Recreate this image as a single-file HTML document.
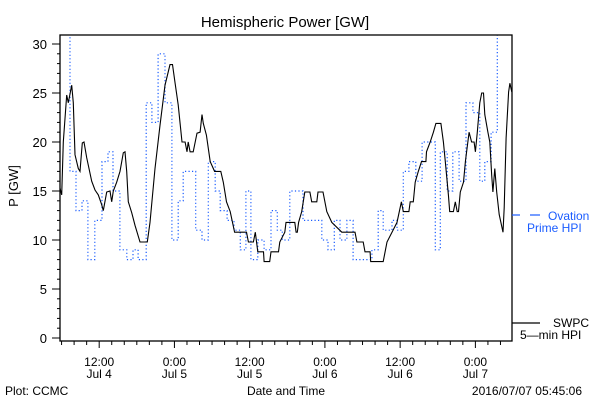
<!DOCTYPE html>
<html><head><meta charset="utf-8"><style>
body{margin:0;background:#fff;}
svg text{font-family:"Liberation Sans",sans-serif;}
</style></head><body>
<svg id="chart" width="600" height="400" xmlns="http://www.w3.org/2000/svg">
<rect width="600" height="400" fill="#fff"/>
<text x="285" y="27" font-size="15" text-anchor="middle">Hemispheric Power [GW]</text>
<text x="0" y="0" font-size="13" text-anchor="middle" transform="translate(18,186) rotate(-90)">P [GW]</text>
<text x="286" y="395" font-size="12" text-anchor="middle">Date and Time</text>
<text x="5" y="395" font-size="12">Plot: CCMC</text>
<text x="582" y="395" font-size="12" text-anchor="end">2016/07/07 05:45:06</text>
<defs><clipPath id="clip"><rect x="60" y="35" width="452" height="306"/></clipPath></defs>
<g id="ticks"></g>
<g id="series" clip-path="url(#clip)"></g>
<rect x="60" y="35" width="452" height="306" fill="none" stroke="#000" stroke-width="1.3"/>
<g>
<line x1="512" y1="215" x2="520" y2="215" stroke="#1a5cff" stroke-width="1.2"/>
<line x1="530" y1="215" x2="540" y2="215" stroke="#1a5cff" stroke-width="1.2"/>
<text x="548" y="220" font-size="12" fill="#1a5cff">Ovation</text>
<text x="527" y="232" font-size="12" fill="#1a5cff">Prime HPI</text>
</g>
<g>
<line x1="512" y1="323" x2="540" y2="323" stroke="#000" stroke-width="1.2"/>
<text x="553" y="327" font-size="12">SWPC</text>
<text x="520" y="339" font-size="12">5—min HPI</text>
</g>
</svg>
<script>
const swpcHours=[5.75,6.02,6.28,6.82,7.07,7.62,7.87,8.14,8.67,8.94,9.31,9.58,10.01,10.81,11.33,11.86,12.4,12.66,13.2,13.73,14.0,14.25,14.79,15.32,15.85,16.12,16.39,16.64,17.19,17.71,18.51,19.67,20.1,20.9,21.7,22.5,23.3,23.7,24.1,24.6,24.9,25.2,25.7,26.0,26.2,26.5,27.0,27.6,28.1,28.4,28.6,29.1,29.7,30.4,31.4,31.8,32.3,32.9,33.6,35.5,35.8,36.6,36.9,37.3,38.2,38.3,39.2,39.4,40.6,40.8,41.6,41.8,43.2,43.4,43.6,43.8,44.3,44.8,45.6,45.9,46.7,46.9,47.7,48.3,49.1,50.7,52.8,53.1,54.1,54.4,55.2,55.3,57.3,57.9,58.7,59.5,60.2,60.5,61.4,61.6,62.1,62.4,62.9,63.4,64.1,64.2,64.8,65.3,65.7,66.5,66.9,67.2,67.7,67.9,68.5,68.8,69.1,69.3,69.6,70.1,70.4,70.6,71.0,71.4,71.8,72.0,72.3,72.7,73.0,73.3,73.5,74.0,74.3,74.6,74.8,75.1,75.4,75.8,76.4,76.6,76.9,77.3,77.5,77.8];
const swpcValues=[15.3,14.6,20,24.8,24,25.8,24,18.7,17.3,17,19.9,20,18.4,16,15.1,14.6,13.6,13,14.9,15,13.9,15,15.9,17,18.9,19,17,13.9,12.8,11.5,9.8,9.8,11.8,17.3,21.7,25.8,27.9,27.9,26,23.8,21.9,20,20,19,20,19,19,20.9,21,22.8,21.9,20.7,18,17,17,15.9,13.9,12.9,10.8,10.8,9.8,9.8,10.8,8.8,8.8,7.8,7.8,8.8,8.8,9.8,10.8,11.8,11.8,10.8,10.8,11.8,12.9,14.9,14.9,13.9,13.9,14.9,14.9,12.9,11.8,10.8,10.8,9.8,9.8,8.8,8.8,7.8,7.8,9.8,10.8,11.8,13.9,12.9,12.9,13.9,13.9,15.9,17,18,18,19,20,21,21.9,21.9,20,18,14.6,12.9,12.9,13.9,12.9,12.9,14.9,15.9,18,19,21,20,20,19,21,24,25,25,22.8,21,20,16.6,14.9,17.3,14.9,12.6,10.8,13.3,20.4,25.1,26,25.1];
const ovationStarts=[6.7,7.35,8.3,9.26,10.2,11.3,12.45,13.4,14.2,15.3,16.4,17.4,18.2,19.5,20.4,21.4,22.5,23.6,24.6,25.4,27.4,28.4,29.4,30.5,31.3,32.4,33.5,34.5,35.4,36.2,37.3,38.3,39.4,40.4,41.2,42.4,44.5,47.5,48.5,49.5,50.4,51.5,52.5,55.5,56.5,57.3,58.7,59.5,60.5,61.4,62.5,63.5,65.6,66.4,67.5,68.4,69.4,70.5,71.6,72.7,73.5,74.5,75.5];
const ovationValues=[31,17,13,14,8,12,18,19,15,9,8,9,8,24,22,29,24,10,14,17,11,10,18,15,13,12,11,9,15,8,10,9,13,11,10,15,12,10,9,12,10,12,8,9,13,11,12,11,17,18,16,20,9,19,15,19,16,24,23,16,18,21,31];
const ovationEnd=76;
const yTickLabels=["0","5","10","15","20","25","30"];
const xTickHours=[12,24,36,48,60,72];
const xTickTimes=["12:00","0:00","12:00","0:00","12:00","0:00"];
const xTickDates=["Jul 4","Jul 5","Jul 5","Jul 6","Jul 6","Jul 7"];

const NS="http://www.w3.org/2000/svg";
function X(h){return 60+(h-5.75)*6.27;}
function Y(v){return 338-9.8*v;}
function mk(tag,attrs,parent){const e=document.createElementNS(NS,tag);for(const k in attrs)e.setAttribute(k,attrs[k]);parent.appendChild(e);return e;}
const ticks=document.getElementById('ticks');
const series=document.getElementById('series');
for(let v=0;v<=30;v++){
  const major=v%5===0;
  const t=mk('line',{x1:major?52:57,x2:60,y1:Y(v),y2:Y(v),stroke:'#000','stroke-width':1},ticks);
  
  
}
yTickLabels.forEach(function(l){
  const t=mk('text',{x:47,y:Y(+l)+5,'font-size':13,'text-anchor':'end'},ticks);
  t.textContent=l;
  
  
});
for(let h=6;h<=77;h+=2){
  const major=h%12===0;
  const t=mk('line',{x1:X(h),x2:X(h),y1:341,y2:major?348:345,stroke:'#000','stroke-width':1},ticks);
  
  
}
xTickHours.forEach(function(h,i){
  const a=mk('text',{x:X(h),y:366,'font-size':12,'text-anchor':'middle'},ticks);
  a.textContent=xTickTimes[i];
  
  
  const b=mk('text',{x:X(h),y:378,'font-size':12,'text-anchor':'middle'},ticks);
  b.textContent=xTickDates[i];
  
  
});
let d='';
ovationStarts.forEach(function(s,i){
  const e=i<ovationStarts.length-1?ovationStarts[i+1]:ovationEnd;
  d+=(i===0?'M':'L')+X(s).toFixed(1)+','+Y(ovationValues[i]).toFixed(1)+'L'+X(e).toFixed(1)+','+Y(ovationValues[i]).toFixed(1);
});
const ov=mk('path',{d:d,fill:'none',stroke:'#1a5cff','stroke-width':1.2,'stroke-dasharray':'1.2,2.3'},series);


const pts=swpcHours.map(function(h,i){return X(h).toFixed(1)+','+Y(swpcValues[i]).toFixed(1);}).join(' ');
const sw=mk('polyline',{points:pts,fill:'none',stroke:'#000','stroke-width':1.1},series);


</script>
</body></html>
